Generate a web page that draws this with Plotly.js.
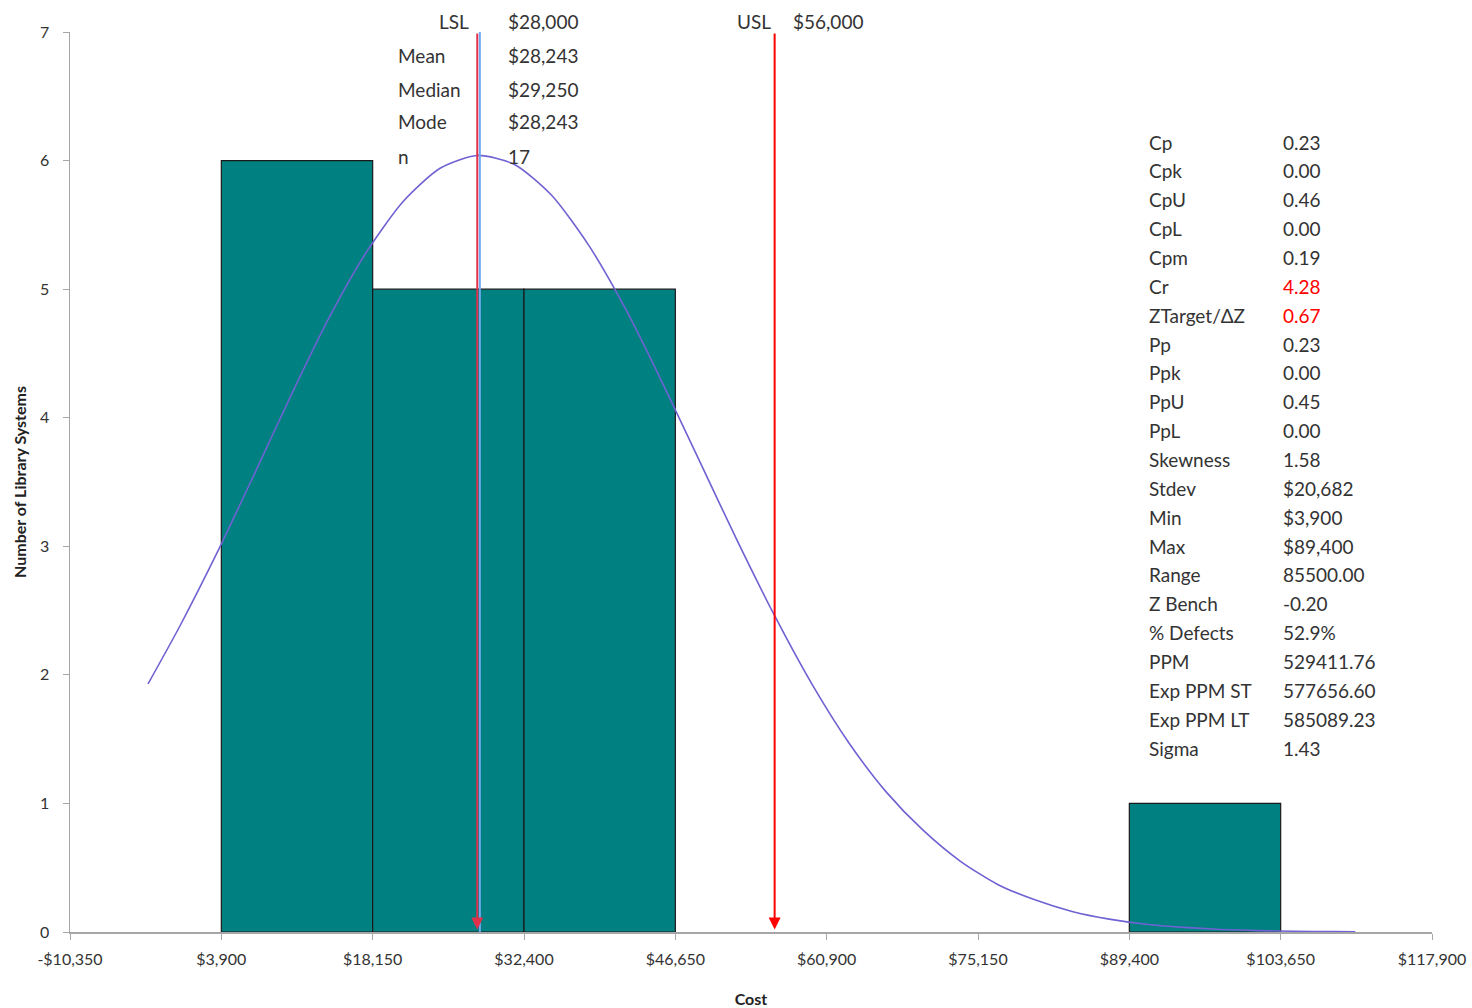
<!DOCTYPE html>
<html>
<head>
<meta charset="utf-8">
<script src="https://cdn.plot.ly/plotly-3.0.1.min.js"></script>
<style>html,body{margin:0;padding:0;background:#fff;}#chart{width:1472px;height:1008px;}</style>
</head>
<body>
<div id="chart"></div>
<script>
// ---- data ----
const binLeft  = [3900, 18150, 32400, 89400];
const binRight = [18150, 32400, 46650, 103650];
const counts   = [6, 5, 5, 1];

const curveX = [-3000, 0, 3500, 7000, 10500, 14000, 17500, 21000, 24500, 28000, 31500, 35000, 38500, 42000, 45500, 49000, 52500, 56000, 59500, 63000, 66500, 70000, 73500, 77000, 80500, 84000, 87500, 91000, 94500, 98000, 101500, 105000, 108500, 110674];
const curveY = [1.93, 2.38, 2.95, 3.56, 4.18, 4.77, 5.28, 5.68, 5.94, 6.04, 5.97, 5.73, 5.34, 4.84, 4.26, 3.65, 3.04, 2.46, 1.93, 1.47, 1.09, 0.79, 0.55, 0.37, 0.25, 0.16, 0.10, 0.06, 0.036, 0.02, 0.011, 0.006, 0.003, 0.002];

const LSL = 28000, USL = 56000, MEAN = 28243;

const xTickVals = [-10350, 3900, 18150, 32400, 46650, 60900, 75150, 89400, 103650, 117900];
const xTickText = ["-$10,350", "$3,900", "$18,150", "$32,400", "$46,650", "$60,900", "$75,150", "$89,400", "$103,650", "$117,900"];

const topLabels = ["LSL", "Mean", "Median", "Mode", "n"];
const topValues = ["$28,000", "$28,243", "$29,250", "$28,243", "17"];

const statLabels = ["Cp", "Cpk", "CpU", "CpL", "Cpm", "Cr", "ZTarget/\u0394Z", "Pp", "Ppk", "PpU", "PpL", "Skewness", "Stdev", "Min", "Max", "Range", "Z Bench", "% Defects", "PPM", "Exp PPM ST", "Exp PPM LT", "Sigma"];
const statValues = ["0.23", "0.00", "0.46", "0.00", "0.19", "4.28", "0.67", "0.23", "0.00", "0.45", "0.00", "1.58", "$20,682", "$3,900", "$89,400", "85500.00", "-0.20", "52.9%", "529411.76", "577656.60", "585089.23", "1.43"];
const statHighlight = ["Cr", "ZTarget/\u0394Z"];

// ---- layout helpers (pixel -> paper) ----
const L = 70, R = 1432, T = 32, B = 932;
const px = p => (p - L) / (R - L);
const py = p => (B - p) / (B - T);
const FONT = "Lato, 'Open Sans', sans-serif";
const TXT = "#333333";

const traces = [
  {
    type: "bar",
    x: binLeft.map((l, i) => (l + binRight[i]) / 2),
    y: counts,
    width: binLeft.map((l, i) => binRight[i] - l),
    marker: { color: "#008080", line: { color: "#1a1a1a", width: 1.2 } },
    hoverinfo: "x+y"
  },
  {
    type: "scatter", mode: "lines",
    x: curveX, y: curveY,
    line: { color: "#6f62d2", width: 1.6, shape: "spline", smoothing: 0.7 }
  },
  {
    type: "scatter", mode: "lines",
    x: [MEAN, MEAN], y: [0, 7],
    line: { color: "#6fa8f0", width: 2 }
  }
];

const annotations = [];
annotations.push({ x: LSL, y: 0.02, ax: LSL, ay: 7, xref: "x", yref: "y", axref: "x", ayref: "y",
  showarrow: true, arrowhead: 2, arrowsize: 1.2, arrowwidth: 2, arrowcolor: "#e0304a", text: "" });
annotations.push({ x: USL, y: 0.02, ax: USL, ay: 7, xref: "x", yref: "y", axref: "x", ayref: "y",
  showarrow: true, arrowhead: 2, arrowsize: 1.2, arrowwidth: 2, arrowcolor: "#ff0000", text: "" });

const topRowsY = [21, 55, 89, 122, 156];
topLabels.forEach((t, i) => {
  if (i === 0) {
    annotations.push({ xref: "paper", yref: "paper", x: px(471), y: py(topRowsY[i]), xanchor: "right", yanchor: "middle",
      text: t, showarrow: false, font: { family: FONT, size: 19, color: TXT } });
  } else {
    annotations.push({ xref: "paper", yref: "paper", x: px(396), y: py(topRowsY[i]), xanchor: "left", yanchor: "middle",
      text: t, showarrow: false, font: { family: FONT, size: 19, color: TXT } });
  }
  annotations.push({ xref: "paper", yref: "paper", x: px(506), y: py(topRowsY[i]), xanchor: "left", yanchor: "middle",
    text: topValues[i], showarrow: false, font: { family: FONT, size: 19, color: TXT } });
});
annotations.push({ xref: "paper", yref: "paper", x: px(773), y: py(21), xanchor: "right", yanchor: "middle",
  text: "USL", showarrow: false, font: { family: FONT, size: 19, color: TXT } });
annotations.push({ xref: "paper", yref: "paper", x: px(791), y: py(21), xanchor: "left", yanchor: "middle",
  text: "$56,000", showarrow: false, font: { family: FONT, size: 19, color: TXT } });

statLabels.forEach((t, i) => {
  const yy = 142 + i * (748 - 142) / 21;
  const hl = statHighlight.indexOf(t) >= 0;
  annotations.push({ xref: "paper", yref: "paper", x: px(1147), y: py(yy), xanchor: "left", yanchor: "middle",
    text: t, showarrow: false, font: { family: FONT, size: 19, color: TXT } });
  annotations.push({ xref: "paper", yref: "paper", x: px(1281), y: py(yy), xanchor: "left", yanchor: "middle",
    text: statValues[i], showarrow: false, font: { family: FONT, size: 19, color: hl ? "#ff0000" : TXT } });
});

const layout = {
  width: 1472, height: 1008,
  margin: { l: L, r: 1472 - R, t: T, b: 1008 - B },
  paper_bgcolor: "#fff", plot_bgcolor: "#fff",
  showlegend: false,
  bargap: 0,
  xaxis: {
    range: [-10350, 117900], tickmode: "array", tickvals: xTickVals, ticktext: xTickText,
    showgrid: false, zeroline: false, showline: true, linecolor: "#a6a6a6", linewidth: 1.5,
    ticks: "outside", ticklen: 6, tickcolor: "#a6a6a6", ticklabelstandoff: 6,
    tickfont: { family: FONT, size: 16, color: TXT },
    title: { text: "<b>Cost</b>", font: { family: FONT, size: 16, color: "#222" }, standoff: 30 }
  },
  yaxis: {
    range: [0, 7], dtick: 1, tick0: 0,
    showgrid: false, zeroline: false, showline: true, linecolor: "#a6a6a6", linewidth: 1.5,
    ticks: "outside", ticklen: 6, tickcolor: "#a6a6a6", ticklabelstandoff: 10,
    tickfont: { family: FONT, size: 16, color: TXT },
    title: { text: "<b>Number of Library Systems</b>", font: { family: FONT, size: 16, color: "#222" }, standoff: 9 }
  },
  annotations: annotations
};

Plotly.newPlot("chart", traces, layout, { displayModeBar: false, staticPlot: true });
</script>
</body>
</html>
